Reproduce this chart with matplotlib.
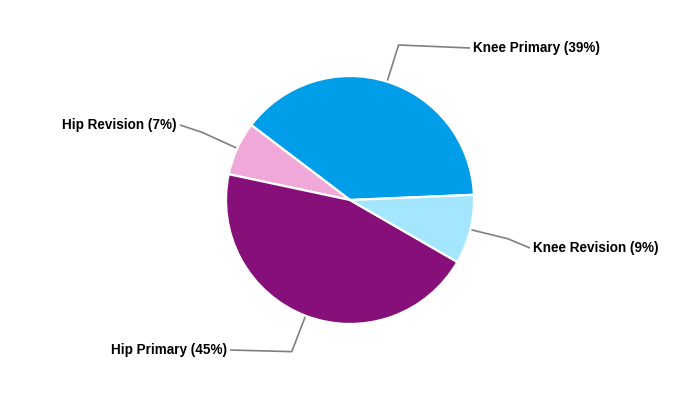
import numpy as np
import matplotlib
matplotlib.use("Agg")
import matplotlib.pyplot as plt

labels = ["Knee Primary", "Hip Revision", "Hip Primary", "Knee Revision"]
values = [39, 7, 45, 9]
colors = ["#009EE8", "#F0A8D8", "#870F7A", "#A5E6FF"]

# label anchor positions in pixel coords (x, y from top), and alignment
label_pos = [(470, 48), (180, 125), (230, 350), (530, 248)]
label_ha = ["left", "right", "right", "left"]

W, H = 700, 400
cx, cy, R = 350, 200, 124
start = 2.4

fig = plt.figure(figsize=(7, 4), dpi=100)
ax = fig.add_axes([0, 0, 1, 1])
ax.set_xlim(0, W)
ax.set_ylim(0, H)
ax.set_aspect("equal")
ax.axis("off")

wedges, _ = ax.pie(values, colors=colors, startangle=start, counterclock=True,
                   center=(cx, cy), radius=R,
                   wedgeprops=dict(edgecolor="white", linewidth=1.6))
ax.set_xlim(0, W)
ax.set_ylim(0, H)

total = sum(values)
for w, lab, v, (lx, ly), ha in zip(wedges, labels, values, label_pos, label_ha):
    mid = np.deg2rad((w.theta1 + w.theta2) / 2)
    x0, y0 = cx + R * np.cos(mid), cy + R * np.sin(mid)
    x1, y1 = cx + 1.31 * R * np.cos(mid), cy + 1.31 * R * np.sin(mid)
    ly_d = H - ly
    ax.plot([x0, x1, lx], [y0, y1, ly_d], color="#808080", lw=1.2,
            solid_capstyle="butt", zorder=0)
    pct = round(100 * v / total)
    tx = lx + 3 if ha == "left" else lx - 3
    ax.text(tx, ly_d, f"{lab} ({pct}%)", ha=ha, va="center",
            fontsize=9.75, fontweight="bold", family="Liberation Sans", color="#000000")

fig.savefig("out.png", dpi=100)
